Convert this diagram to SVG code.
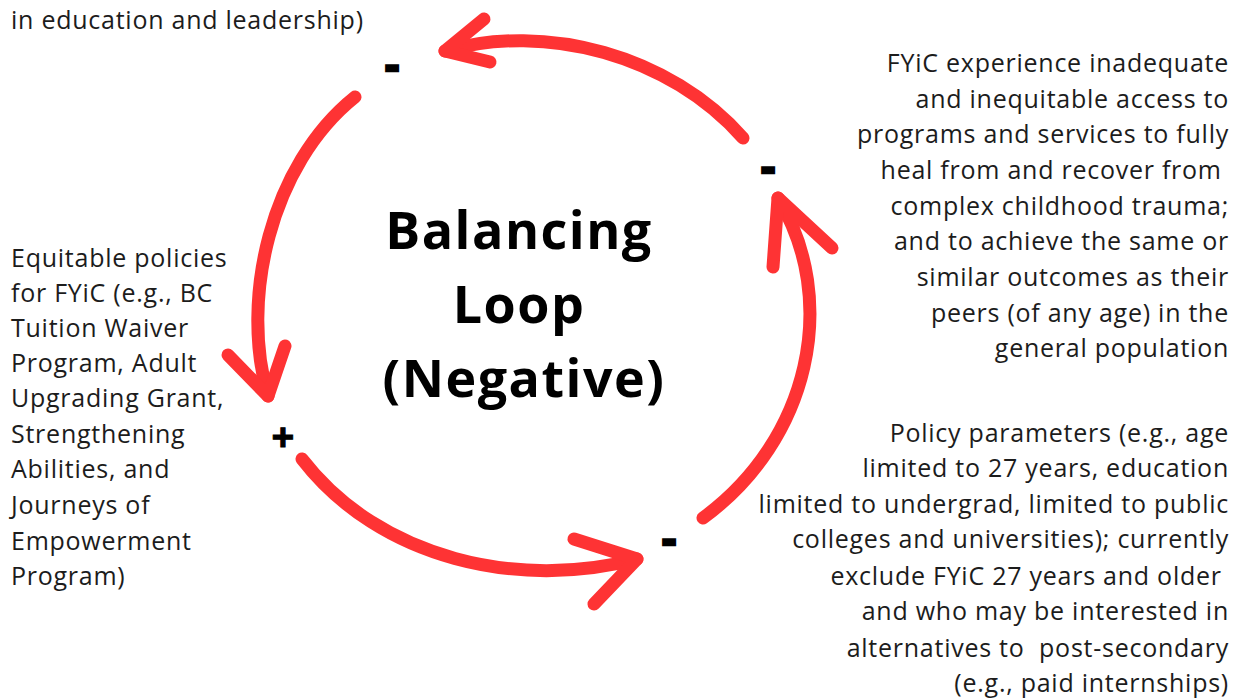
<svg xmlns="http://www.w3.org/2000/svg" width="1239" height="698" viewBox="0 0 1239 698">
  <style>
    .body { font-family: "Open Sans", "Noto Sans", sans-serif; font-size: 25px; letter-spacing: 0.75px; fill: #1c1c1c; }
    .title { font-family: "Open Sans", "Noto Sans", sans-serif; font-size: 52px; font-weight: 700; letter-spacing: 1.5px; fill: #000; text-anchor: middle; }
    .sign { font-family: "Open Sans", "Noto Sans", sans-serif; font-weight: 700; fill: #000; stroke: #000; text-anchor: middle; }
    .minus { font-size: 44px; stroke-width: 2.5px; }
    .plus { font-size: 40px; stroke-width: 1px; }
    .arrow { fill: none; stroke: #fe3334; stroke-width: 13; stroke-linecap: round; stroke-linejoin: round; }
    .right { text-anchor: end; }
  </style>

  <rect width="1239" height="698" fill="#ffffff"/>

  <!-- feedback loop arrows -->
  <g id="connectors">
    <!-- top: right node back to top-left node -->
    <path class="arrow" d="M743,138 C670,55 545,22 445,51"/>
    <path class="arrow" d="M484,19 L445,51 L490,62"/>
    <!-- left: top-left node down to left node -->
    <path class="arrow" d="M355,97 C270,165 240,300 268,396"/>
    <path class="arrow" d="M228,355 L268,396 L285,346"/>
    <!-- bottom: left node to bottom-right node -->
    <path class="arrow" d="M302,459 C380,560 520,590 637,559"/>
    <path class="arrow" d="M574,539 L637,559 L594,604"/>
    <!-- right: bottom-right node up to right node -->
    <path class="arrow" d="M703,518 C810,440 840,300 778,198"/>
    <path class="arrow" d="M773,267 L778,198 L832,248"/>
  </g>

  <!-- loop polarity signs -->
  <g id="signs">
    <text class="sign minus" x="392" y="80">-</text>
    <text class="sign minus" x="768" y="182">-</text>
    <text class="sign minus" x="669" y="554">-</text>
    <text class="sign plus" x="283" y="451">+</text>
  </g>

  <g id="loop-title">
    <text class="title" x="519" y="249">Balancing</text>
    <text class="title" x="519" y="323">Loop</text>
    <text class="title" x="524" y="397">(Negative)</text>
  </g>

  <g id="node-top">
    <text class="body" x="11" y="29">in education and leadership)</text>
  </g>

  <g id="node-left">
    <text class="body" x="11">
      <tspan x="11" y="267">Equitable policies</tspan>
      <tspan x="11" y="302">for FYiC (e.g., BC</tspan>
      <tspan x="11" y="337">Tuition Waiver</tspan>
      <tspan x="11" y="372">Program, Adult</tspan>
      <tspan x="11" y="407">Upgrading Grant,</tspan>
      <tspan x="11" y="443">Strengthening</tspan>
      <tspan x="11" y="478">Abilities, and</tspan>
      <tspan x="11" y="514">Journeys of</tspan>
      <tspan x="11" y="550">Empowerment</tspan>
      <tspan x="11" y="585">Program)</tspan>
    </text>
  </g>

  <g id="node-right">
    <text class="body right" xml:space="preserve"><tspan x="1229" y="72">FYiC experience inadequate</tspan><tspan x="1229" y="108">and inequitable access to</tspan><tspan x="1229" y="143">programs and services to fully</tspan><tspan x="1229" y="179">heal from and recover from </tspan><tspan x="1229" y="215">complex childhood trauma;</tspan><tspan x="1229" y="250">and to achieve the same or</tspan><tspan x="1229" y="286">similar outcomes as their</tspan><tspan x="1229" y="322">peers (of any age) in the</tspan><tspan x="1229" y="357">general population</tspan></text>
  </g>

  <g id="node-bottom-right">
    <text class="body right" xml:space="preserve"><tspan x="1229" y="442">Policy parameters (e.g., age</tspan><tspan x="1229" y="477">limited to 27 years, education</tspan><tspan x="1229" y="513">limited to undergrad, limited to public</tspan><tspan x="1229" y="548">colleges and universities); currently</tspan><tspan x="1229" y="585">exclude FYiC 27 years and older </tspan><tspan x="1229" y="620">and who may be interested in</tspan><tspan x="1229" y="657">alternatives to  post-secondary</tspan><tspan x="1229" y="692">(e.g., paid internships)</tspan></text>
  </g>
</svg>
